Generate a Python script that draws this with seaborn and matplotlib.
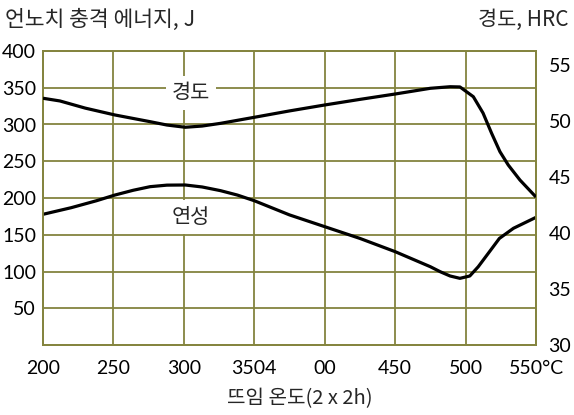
import matplotlib
matplotlib.use("Agg")
import matplotlib.pyplot as plt
import seaborn as sns
import pandas as pd

# Tempering temperature (°C) and measured curves
hard_temp = [200, 212, 230, 251, 276, 288, 301, 313, 326, 350, 375, 400, 425,
             450, 475, 489, 496, 505.5, 512.4, 518.5, 524.4, 530.3, 538.6, 550]
hardness_hrc = [52.03, 51.79, 51.15, 50.54, 49.94, 49.64, 49.44, 49.55, 49.79,
                50.33, 50.90, 51.43, 51.93, 52.41, 52.92, 53.06, 53.04, 52.17,
                50.71, 48.90, 47.26, 46.07, 44.73, 43.21]

tough_temp = [200, 220, 238, 251, 264, 276, 288, 301, 313, 326, 338, 350, 375,
              400, 425, 450, 475, 482, 489, 496, 503, 509, 517, 524, 534, 550]
impact_j = [177.8, 186.8, 196.3, 204, 210.5, 215.4, 217.5, 217.7, 215, 210,
            204, 196.3, 177, 161, 145, 127, 106.5, 99.7, 93.9, 90.7, 93.9,
            106.5, 127, 145, 158.8, 173.7]

x_ticks = [200, 250, 300, 350, 400, 450, 500, 550]
x_tick_labels = ["200", "250", "300", "3504", "00", "450", "500", "550°C"]
left_ticks = [50, 100, 150, 200, 250, 300, 350, 400]
right_ticks = [30, 35, 40, 45, 50, 55]

sns.set_theme(style="white")
plt.rcParams["font.family"] = ["Lato", "Noto Sans CJK KR", "DejaVu Sans"]
KR = ["Noto Sans CJK KR", "DejaVu Sans"]

grid_col = "#84843f"
fig = plt.figure(figsize=(5.74, 4.15), dpi=100)
ax = fig.add_axes([43 / 574, 70 / 415, 493 / 574, 294 / 415])
ax2 = ax.twinx()

tough_df = pd.DataFrame({"temp": tough_temp, "J": impact_j})
hard_df = pd.DataFrame({"temp": hard_temp, "HRC": hardness_hrc})

line_kw = dict(color="black", linewidth=2.3, sort=False, zorder=5,
               solid_joinstyle="round", solid_capstyle="butt")
sns.lineplot(data=tough_df, x="temp", y="J", ax=ax, **line_kw)
sns.lineplot(data=hard_df, x="temp", y="HRC", ax=ax2, **line_kw)

ax.set_xlim(200, 550)
ax.set_ylim(0, 400)
ax2.set_ylim(30, 56.25)

ax.set_xticks(x_ticks)
ax.set_xticklabels(x_tick_labels)
ax.set_yticks(left_ticks)
ax2.set_yticks(right_ticks)

ax.grid(True, color=grid_col, linewidth=1.3)
ax.set_axisbelow(True)
ax2.grid(False)
for a in (ax, ax2):
    for s in a.spines.values():
        s.set_color(grid_col)
        s.set_linewidth(1.3)

ax.tick_params(axis="x", length=0, pad=11, labelsize=14, colors="black")
ax.tick_params(axis="y", length=0, pad=5, labelsize=14, colors="black")
ax2.tick_params(axis="y", length=0, pad=9, labelsize=14, colors="black")
ax.set_xlabel("")
ax.set_ylabel("")
ax2.set_ylabel("")

# curve labels with white backing over the grid
ax.text(305, 343, "경도", ha="center", va="center", fontsize=15, family=KR,
        bbox=dict(facecolor="white", edgecolor="none", pad=4), zorder=4)
ax.text(305, 174, "연성", ha="center", va="center", fontsize=15, family=KR,
        bbox=dict(facecolor="white", edgecolor="none", pad=4), zorder=4)

fig.text(5 / 574, 1 - 20 / 415, "언노치 충격 에너지, J", ha="left", va="center",
         fontsize=15.5, family=KR)
fig.text(568 / 574, 1 - 20 / 415, "경도, HRC", ha="right", va="center",
         fontsize=15, family=KR)
fig.text(300 / 574, 1 - 399 / 415, "뜨임 온도(2 x 2h)", ha="center", va="center",
         fontsize=14.5, family=KR)

fig.savefig("out.png", dpi=100)
